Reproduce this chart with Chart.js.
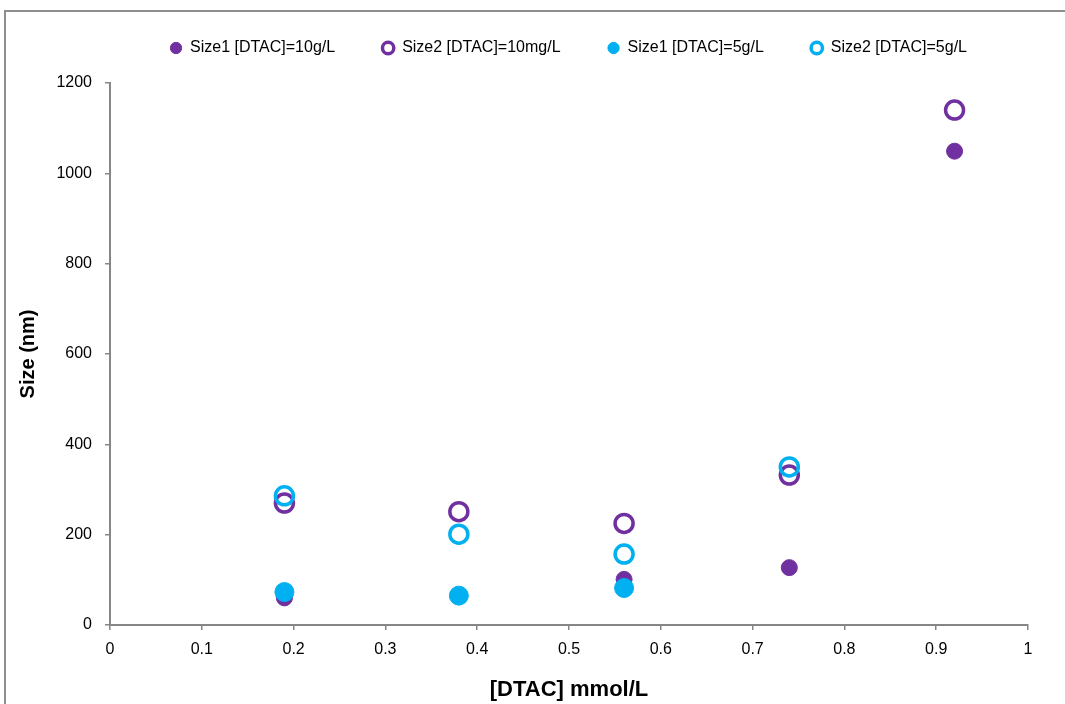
<!DOCTYPE html>
<html>
<head>
<meta charset="utf-8">
<script src="https://cdn.jsdelivr.net/npm/chart.js@4/dist/chart.umd.min.js"></script>
<style>
  html, body { margin: 0; padding: 0; background: #ffffff; overflow: hidden; }
  #frame { position: absolute; left: 4px; top: 10px; width: 1100px; height: 800px; border: 2px solid #8e8e8e; box-sizing: border-box; }
  #c { position: absolute; left: 0; top: 0; }
</style>
</head>
<body>
<div id="frame"></div>
<canvas id="c" width="1065" height="704"></canvas>
<script>
// ---- data ----
const seriesNames = ['Size1 [DTAC]=10g/L', 'Size2 [DTAC]=10mg/L', 'Size1 [DTAC]=5g/L', 'Size2 [DTAC]=5g/L'];
const xDTAC = [0.19, 0.38, 0.56, 0.74, 0.92];
const size1_10 = [60, 65, 101, 127, 1049];
const size2_10 = [270, 251, 225, 332, 1140];
const size1_5 = [73, 65, 82];
const size2_5 = [286, 201, 157, 350];
const xTicks = [0, 0.1, 0.2, 0.3, 0.4, 0.5, 0.6, 0.7, 0.8, 0.9, 1];
const yTicks = [0, 200, 400, 600, 800, 1000, 1200];

const PURPLE = '#7030A0';
const CYAN = '#00B0F0';
const AXIS = '#868686';

function pts(ys) { return ys.map((y, i) => ({ x: xDTAC[i], y: y })); }

const legendShift = {
  id: 'legendShift',
  beforeInit(chart) {
    const lg = chart.legend;
    const origFit = lg.fit;
    lg.fit = function () { origFit.call(this); this.height = 83; };
  },
  afterLayout(chart) {
    const lg = chart.legend;
    lg.left += 54.5; lg.right += 54.5;
    lg.top = -7;
  }
};

new Chart(document.getElementById('c'), {
  type: 'scatter',
  data: {
    datasets: [
      { label: seriesNames[0], data: pts(size1_10), order: 4,
        pointRadius: 8, pointBorderWidth: 1, pointBackgroundColor: PURPLE, pointBorderColor: PURPLE,
        backgroundColor: PURPLE, borderColor: PURPLE, borderWidth: 1 },
      { label: seriesNames[1], data: pts(size2_10), order: 3,
        pointRadius: 9, pointBorderWidth: 3.5, pointBackgroundColor: 'rgba(255,255,255,0)', pointBorderColor: PURPLE,
        backgroundColor: '#ffffff', borderColor: PURPLE, borderWidth: 3.5 },
      { label: seriesNames[2], data: pts(size1_5), order: 2,
        pointRadius: 9.5, pointBorderWidth: 1, pointBackgroundColor: CYAN, pointBorderColor: CYAN,
        backgroundColor: CYAN, borderColor: CYAN, borderWidth: 1 },
      { label: seriesNames[3], data: pts(size2_5), order: 1,
        pointRadius: 9, pointBorderWidth: 3.5, pointBackgroundColor: 'rgba(255,255,255,0)', pointBorderColor: CYAN,
        backgroundColor: '#ffffff', borderColor: CYAN, borderWidth: 3.5 }
    ]
  },
  options: {
    responsive: false,
    animation: false,
    devicePixelRatio: 1,
    events: [],
    layout: { padding: { left: 0, right: 37, top: 0, bottom: 0 } },
    plugins: {
      tooltip: { enabled: false },
      legend: {
        position: 'top',
        align: 'center',
        labels: {
          usePointStyle: true,
          pointStyle: 'circle',
          boxWidth: 12,
          boxHeight: 8,
          padding: 47,
          color: '#000000',
          font: { family: '"Liberation Sans", Arial, sans-serif', size: 16 },
          sort: (a, b) => a.datasetIndex - b.datasetIndex
        }
      }
    },
    scales: {
      x: {
        type: 'linear',
        min: 0, max: 1,
        afterBuildTicks: (s) => { s.ticks = xTicks.map(v => ({ value: v })); },
        afterFit: (s) => { s.height = 79; },
        ticks: {
          padding: 10,
          color: '#000000',
          font: { family: '"Liberation Sans", Arial, sans-serif', size: 16 },
          callback: (v) => String(Number(v.toFixed(1)))
        },
        grid: { drawOnChartArea: false, drawTicks: true, tickLength: 5, color: AXIS, lineWidth: 1.5 },
        border: { display: true, color: AXIS, width: 2 },
        title: {
          display: true, text: '[DTAC] mmol/L', color: '#000000',
          font: { family: '"Liberation Sans", Arial, sans-serif', size: 22, weight: 'bold' },
          padding: { top: 0, bottom: 1 }
        }
      },
      y: {
        type: 'linear',
        min: 0, max: 1200,
        afterBuildTicks: (s) => { s.ticks = yTicks.map(v => ({ value: v })); },
        afterFit: (s) => { s.width = 110; },
        ticks: {
          padding: 13,
          color: '#000000',
          font: { family: '"Liberation Sans", Arial, sans-serif', size: 16 },
          callback: (v) => String(v)
        },
        grid: { drawOnChartArea: false, drawTicks: true, tickLength: 5, color: AXIS, lineWidth: 1.5 },
        border: { display: true, color: AXIS, width: 2 },
        title: {
          display: true, text: 'Size (nm)', color: '#000000',
          font: { family: '"Liberation Sans", Arial, sans-serif', size: 20, weight: 'bold' },
          padding: { top: 16, bottom: 0 }
        }
      }
    }
  },
  plugins: [legendShift]
});
</script>
</body>
</html>
